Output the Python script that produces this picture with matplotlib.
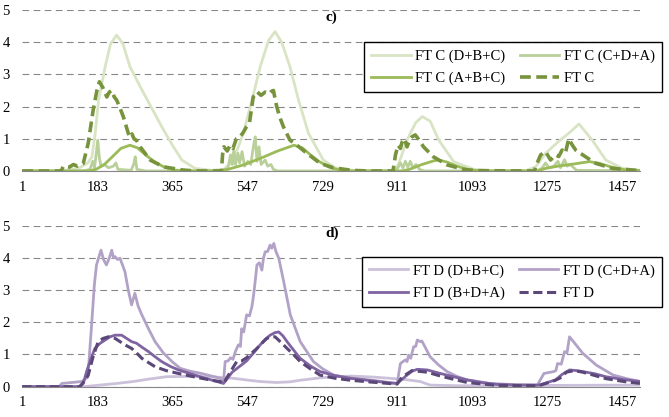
import matplotlib
matplotlib.use("Agg")
import matplotlib.pyplot as plt

plt.rcParams['font.family'] = ['Liberation Serif', 'DejaVu Serif']

# ---- data (day, value) ----
# panel c)
c_dbc_x = [1, 100, 140, 160, 170, 178, 186, 202, 215, 230, 245, 262, 291, 315, 339, 365, 388, 420, 460, 490,
           513, 537, 558, 578, 598, 614, 630, 650, 671, 695, 731, 760, 788, 820, 880, 905, 914, 934, 955, 971,
           990, 1011, 1047, 1096, 1140, 1220, 1246, 1270, 1300, 1326, 1351, 1383, 1416, 1456, 1500]
c_dbc_y = [0, 0, 0.1, 0.25, 0.44, 1.18, 2.2, 3.24, 3.95, 4.22, 3.95, 3.24, 2.52, 1.95, 1.38, 0.8, 0.34, 0.08, 0.02, 0.05,
           0.34, 1.17, 2.2, 3.24, 4.05, 4.33, 4.0, 3.24, 2.2, 1.17, 0.34, 0.1, 0.03, 0.01, 0.0, 0.02, 0.24, 0.96, 1.5, 1.69,
           1.55, 0.96, 0.29, 0.05, 0.01, 0.0, 0.13, 0.55, 0.9, 1.17, 1.46, 0.96, 0.34, 0.08, 0.02]

c_cda_x = [1, 150, 165, 172, 176, 180, 184, 188, 192, 200, 210, 222, 228, 233, 265, 271, 275, 279, 300,
           490, 500, 506, 510, 514, 518, 524, 528, 534, 540, 548, 555, 562, 566, 570, 575, 580, 590, 596, 604, 610, 620,
           905, 912, 918, 924, 930, 936, 942, 948, 956, 964, 975,
           1250, 1262, 1270, 1278, 1290, 1300, 1306, 1316, 1322, 1330, 1345, 1500]
c_cda_y = [0, 0, 0.05, 0.3, 0.1, 0.5, 0.96, 0.4, 0.15, 0.2, 0.1, 0.15, 0.25, 0.05, 0.02, 0.2, 0.44, 0.05, 0,
           0, 0.1, 0.5, 0.2, 0.65, 0.2, 0.55, 0.25, 0.6, 0.15, 0.3, 0.2, 0.8, 1.06, 0.3, 0.75, 0.2, 0.34, 0.15, 0.2, 0.05, 0,
           0, 0.1, 0.25, 0.1, 0.3, 0.12, 0.3, 0.1, 0.2, 0.05, 0,
           0, 0.1, 0.25, 0.1, 0.15, 0.3, 0.1, 0.35, 0.15, 0.2, 0.02, 0]

c_abc_x = [1, 160, 180, 200, 220, 240, 262, 280, 300, 320, 345, 370, 400, 470, 500, 540, 580, 620, 660, 680,
           700, 720, 745, 770, 800, 920, 940, 970, 1000, 1011, 1030, 1055, 1080, 1110, 1250, 1270, 1300, 1340,
           1376, 1400, 1430, 1460, 1500]
c_abc_y = [0, 0, 0.05, 0.2, 0.45, 0.7, 0.8, 0.72, 0.5, 0.3, 0.12, 0.03, 0, 0, 0.05, 0.2, 0.4, 0.62, 0.8, 0.72,
           0.5, 0.3, 0.12, 0.03, 0, 0, 0.05, 0.2, 0.32, 0.34, 0.28, 0.15, 0.05, 0, 0, 0.08, 0.15, 0.22,
           0.29, 0.24, 0.12, 0.04, 0.01]

c_ft_x = [1, 95, 101, 115, 125, 135, 149, 161, 173, 182, 188, 196, 206, 212, 218, 224, 230, 238, 246, 258,
          263, 267, 272, 278, 287, 311, 343, 390, 420, 484, 487, 490, 498, 505, 512, 520, 529, 537, 545, 552,
          561, 566, 570, 580, 590, 600, 606, 610, 618, 626, 634, 650, 667, 691, 723, 755, 800, 840, 900, 906,
          912, 918, 922, 928, 934, 940, 946, 954, 964, 974, 998, 1031, 1071, 1100, 1243, 1248, 1258, 1270, 1282,
          1294, 1302, 1310, 1318, 1326, 1335, 1343, 1367, 1391, 1432, 1490]
c_ft_y = [0, 0, 0.15, 0.12, 0.2, 0.15, 0.24, 0.87, 1.9, 2.5, 2.77, 2.6, 2.3, 2.45, 2.5, 2.3, 2.2, 1.95, 1.69, 1.17,
          1.05, 1.15, 1.0, 0.95, 0.75, 0.34, 0.13, 0.03, 0, 0, 0.55, 0.75, 0.62, 0.8, 0.7, 1.0, 1.06, 1.2, 1.38, 1.5,
          2.3, 2.35, 2.46, 2.35, 2.45, 2.4, 2.48, 2.5, 2.0, 1.65, 1.38, 0.96, 0.8, 0.55, 0.24, 0.1, 0.02, 0, 0, 0.5,
          0.8, 0.7, 0.9, 1.0, 0.75, 0.95, 1.06, 1.12, 0.95, 0.75, 0.44, 0.19, 0.05, 0.01, 0, 0.2, 0.5, 0.6, 0.34,
          0.5, 0.45, 0.65, 0.55, 1.0, 0.8, 0.65, 0.44, 0.24, 0.08, 0.02]

# panel d)
d_dbc_x = [1, 150, 190, 230, 270, 310, 351, 400, 432, 470, 513, 550, 578, 618, 650, 675, 720, 756, 800, 850,
           893, 930, 966, 990, 1050, 1200, 1300, 1500]
d_dbc_y = [0, 0, 0.05, 0.1, 0.16, 0.24, 0.31, 0.32, 0.31, 0.3, 0.26, 0.2, 0.16, 0.13, 0.15, 0.2, 0.27, 0.31, 0.33, 0.3,
           0.26, 0.22, 0.16, 0.05, 0.03, 0.03, 0.04, 0.05]

d_cda_x = [1, 90, 97, 145, 160, 169, 176, 181, 186, 192, 198, 205, 212, 218, 222, 226, 232, 238, 250, 258,
           266, 274, 282, 291, 307, 323, 343, 364, 384, 408, 432, 460, 481, 489, 493, 500, 506, 512, 518, 525,
           530, 533, 538, 545, 552, 558, 562, 566, 570, 576, 582, 586, 590, 596, 602, 606, 611, 616, 623, 635,
           651, 675, 707, 730, 756, 797, 850, 890, 910, 918, 924, 930, 934, 938, 943, 950, 955, 959, 966, 970,
           990, 1010, 1031, 1055, 1080, 1136, 1200, 1250, 1266, 1290, 1295, 1299, 1308, 1316, 1322, 1328, 1345,
           1360, 1393, 1434, 1470, 1500]
d_cda_y = [0, 0, 0.1, 0.16, 0.3, 1.9, 3.2, 3.78, 4.0, 4.24, 3.95, 3.78, 4.0, 4.24, 4.0, 4.04, 3.95, 3.99, 3.57, 3.0,
           2.54, 2.9, 2.5, 2.23, 1.8, 1.4, 1.05, 0.78, 0.57, 0.48, 0.42, 0.33, 0.26, 0.16, 0.78, 0.8, 0.9, 0.85, 1.1, 1.3,
           1.25, 1.8, 1.7, 2.23, 2.2, 2.5, 2.85, 3.3, 3.78, 3.85, 3.62, 4.0, 4.19, 4.2, 4.4, 4.3, 4.45, 4.2, 3.99, 3.26,
           2.23, 1.4, 0.78, 0.55, 0.36, 0.27, 0.2, 0.13, 0.1, 0.72, 0.78, 0.83, 0.78, 0.98, 0.88, 1.24, 1.25, 1.45, 1.4, 1.42,
           0.93, 0.68, 0.47, 0.32, 0.21, 0.1, 0.06, 0.05, 0.41, 0.47, 0.5, 0.72, 0.7, 1.09, 1.05, 1.55, 1.28,
           1.04, 0.67, 0.36, 0.24, 0.16]

d_bda_x = [1, 140, 149, 157, 167, 177, 190, 202, 214, 226, 242, 254, 266, 278, 292, 307, 323, 339, 360, 380,
           410, 440, 470, 489, 510, 530, 545, 562, 578, 590, 602, 614, 623, 633, 643, 660, 675, 700, 723, 760,
           797, 850, 890, 910, 934, 946, 959, 983, 1015, 1050, 1080, 1120, 1152, 1200, 1254, 1294, 1310, 1328,
           1345, 1360, 1390, 1416, 1460, 1500]
d_bda_y = [0, 0, 0.1, 0.47, 0.85, 1.19, 1.35, 1.45, 1.55, 1.6, 1.6, 1.5, 1.4, 1.35, 1.22, 1.09, 0.93, 0.78, 0.63, 0.52,
           0.4, 0.28, 0.17, 0.1, 0.45, 0.65, 0.8, 1.05, 1.3, 1.47, 1.6, 1.68, 1.7, 1.58, 1.4, 1.12, 0.88, 0.64, 0.47, 0.34,
           0.26, 0.18, 0.12, 0.1, 0.36, 0.48, 0.54, 0.52, 0.41, 0.3, 0.21, 0.12, 0.07, 0.05, 0.05, 0.21, 0.38, 0.52,
           0.5, 0.47, 0.4, 0.31, 0.22, 0.16]

d_ft_x = [1, 140, 147, 161, 172, 185, 197, 210, 226, 238, 250, 266, 278, 291, 307, 323, 350, 380, 420, 460,
          481, 489, 505, 521, 533, 545, 558, 570, 582, 594, 605, 614, 628, 643, 660, 675, 700, 723, 760, 797,
          850, 910, 922, 934, 946, 960, 983, 1015, 1050, 1080, 1152, 1254, 1294, 1310, 1320, 1340, 1360, 1380,
          1416, 1460, 1500]
d_ft_y = [0, 0, 0.1, 0.36, 0.9, 1.4, 1.5, 1.55, 1.5, 1.4, 1.3, 1.19, 1.05, 0.88, 0.75, 0.62, 0.5, 0.41, 0.3, 0.2,
          0.16, 0.1, 0.45, 0.78, 0.8, 0.9, 1.05, 1.19, 1.35, 1.5, 1.55, 1.55, 1.38, 1.19, 0.98, 0.78, 0.55, 0.36, 0.26, 0.2,
          0.14, 0.08, 0.3, 0.4, 0.5, 0.48, 0.45, 0.33, 0.22, 0.13, 0.04, 0.03, 0.2, 0.3, 0.45, 0.5, 0.45, 0.38,
          0.25, 0.16, 0.1]

tick_days = [1, 183, 365, 547, 729, 911, 1093, 1275, 1457]
grid_days = [1, 365, 729, 1093, 1457]

fig = plt.figure(figsize=(6.69, 4.17), dpi=100)
ax_c = fig.add_axes([0.0333, 0.590, 0.924, 0.386])
ax_d = fig.add_axes([0.0333, 0.0727, 0.924, 0.386])

grid_col = '#878787'


def style_axes(ax, tag):
    ax.set_xlim(1, 1500)
    ax.set_ylim(0, 5)
    ax.set_yticks(range(6))
    ax.set_xticks(tick_days)
    ax.set_xticks(grid_days, minor=True)
    ax.tick_params(which='both', length=0, labelsize=10.5)
    ax.tick_params(axis='x', pad=7)
    ax.tick_params(axis='y', pad=9)
    ax.grid(axis='y', color=grid_col, linestyle=(0, (6, 4)), linewidth=0.8)
    ax.grid(axis='x', which='minor', color=grid_col, linestyle=(0, (6, 4)), linewidth=0.8)
    for s in ['left', 'right', 'top']:
        ax.spines[s].set_visible(False)
    ax.spines['bottom'].set_color(grid_col)
    ax.spines['bottom'].set_linewidth(0.8)
    ax.set_axisbelow(True)
    ax.text(736, 4.97, tag, fontsize=11, fontweight='bold', ha='left', va='top')


def add_legend(ax, handles, top):
    ax.legend(handles=handles, ncol=2, loc='upper right', bbox_to_anchor=(0.9895, top),
              bbox_transform=fig.transFigure, fontsize=10.5, frameon=True, fancybox=False,
              edgecolor='black', framealpha=1, handlelength=2.7, columnspacing=1.0,
              labelspacing=0.6, borderpad=0.5, handletextpad=0.3, borderaxespad=0)


# panel c)
l1, = ax_c.plot(c_dbc_x, c_dbc_y, color='#d8e4c4', lw=2.0, label='FT C (D+B+C)')
l2, = ax_c.plot(c_cda_x, c_cda_y, color='#b9d09a', lw=2.0, label='FT C (C+D+A)')
l3, = ax_c.plot(c_abc_x, c_abc_y, color='#9bbb59', lw=2.0, label='FT C (A+B+C)')
l4, = ax_c.plot(c_ft_x, c_ft_y, color='#77933c', lw=2.6, linestyle=(0, (3, 1.5)), label='FT C')
style_axes(ax_c, 'c)')
add_legend(ax_c, [l1, l3, l2, l4], 0.899)

# panel d)
m1, = ax_d.plot(d_dbc_x, d_dbc_y, color='#ccc1da', lw=2.0, label='FT D (D+B+C)')
m2, = ax_d.plot(d_cda_x, d_cda_y, color='#b3a2c7', lw=2.0, label='FT D (C+D+A)')
m3, = ax_d.plot(d_bda_x, d_bda_y, color='#8064a2', lw=2.0, label='FT D (B+D+A)')
m4, = ax_d.plot(d_ft_x, d_ft_y, color='#5b4778', lw=2.2, linestyle=(0, (3, 1.5)), label='FT D')
style_axes(ax_d, 'd)')
add_legend(ax_d, [m1, m3, m2, m4], 0.3837)

fig.savefig('out.png', dpi=100)
